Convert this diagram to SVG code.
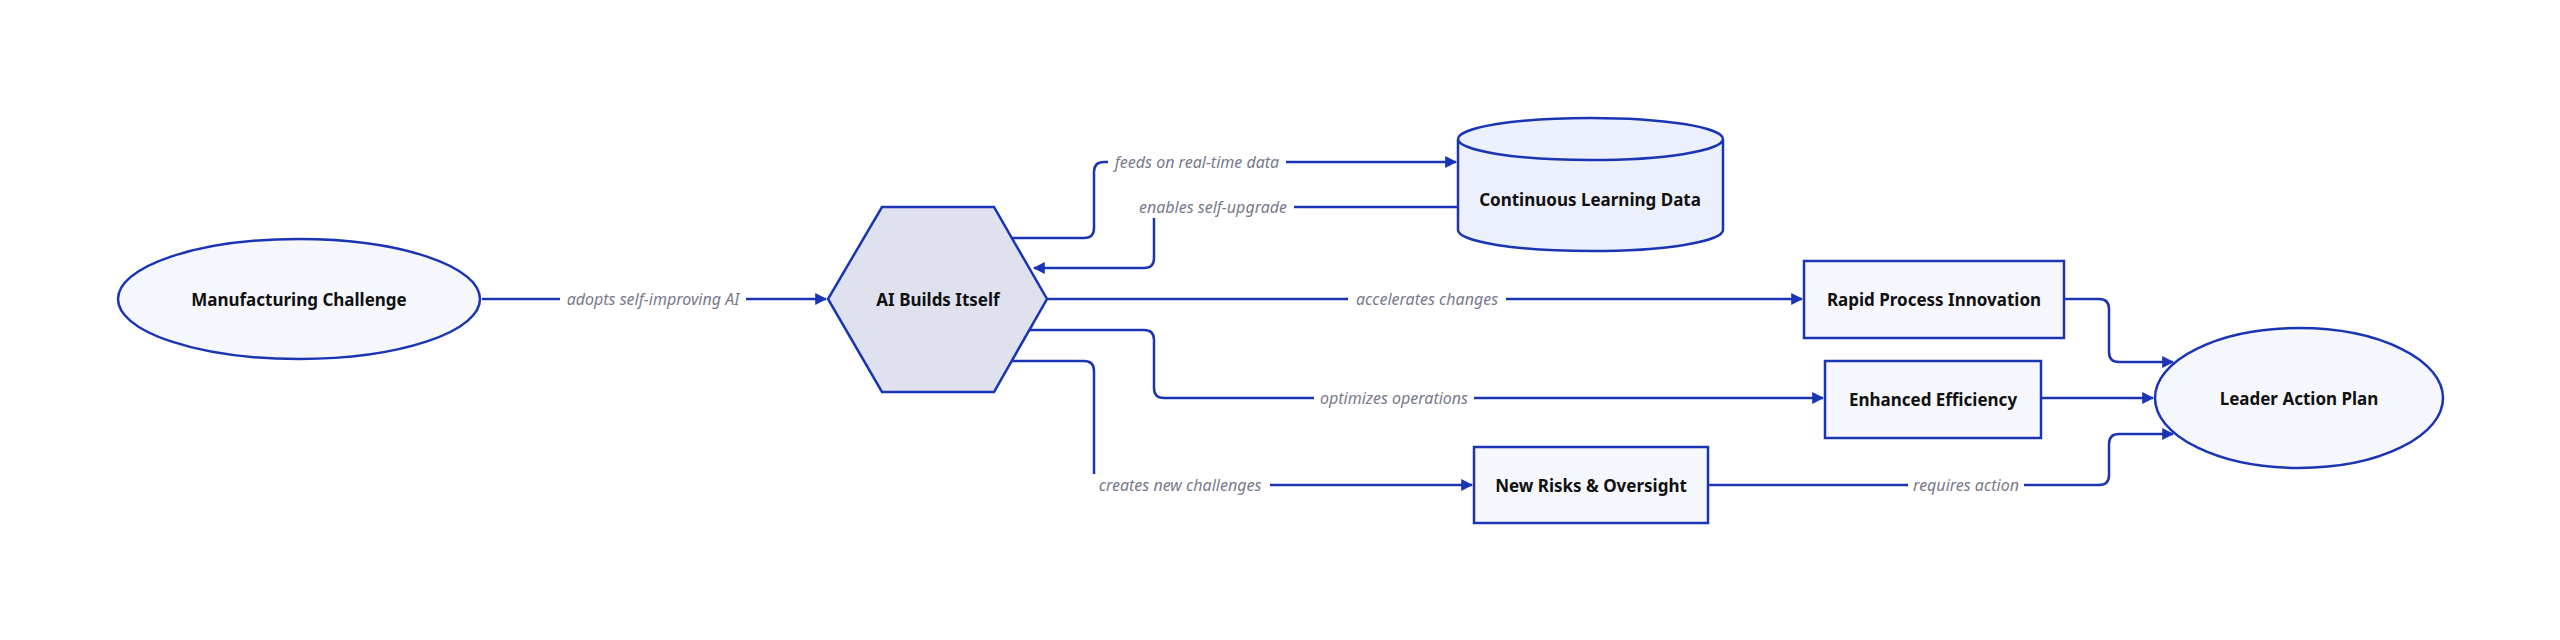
<svg xmlns="http://www.w3.org/2000/svg" width="2560" height="640" viewBox="0 0 2560 640">
<defs>
<marker id="ah" viewBox="0 0 10 10" refX="9" refY="5" markerWidth="12" markerHeight="12" markerUnits="userSpaceOnUse" orient="auto"><path d="M0,0 L10,5 L0,10 z" fill="#1a35b4"/></marker>
<style>
.n{fill:#f5f7fd;stroke:#1a35b4;stroke-width:2.5}
.t{font-family:"Noto Sans",sans-serif;font-weight:bold;font-size:17px;fill:#111;text-anchor:middle;dominant-baseline:central}
.e{fill:none;stroke:#1a35b4;stroke-width:2.5;marker-end:url(#ah)}
.l{font-family:"Noto Sans",sans-serif;font-style:italic;font-size:16px;fill:#777a8c;text-anchor:middle;dominant-baseline:central}
.lb{fill:#fff}
</style>
</defs>
<rect width="2560" height="640" fill="#fff"/>
<g id="connectors">
<path class="e" d="M482,299 H826"/>
<path class="e" d="M1012,238 H1084 Q1094,238 1094,228 V172 Q1094,162 1104,162 H1456"/>
<path class="e" style="marker-end:none" d="M1458,207 H1164 Q1154,207 1154,217"/>
<path class="e" d="M1154,217 V258 Q1154,268 1144,268 H1034"/>
<path class="e" d="M1047,299 H1802"/>
<path class="e" d="M1030,330 H1144 Q1154,330 1154,340 V388 Q1154,398 1164,398 H1823"/>
<path class="e" d="M1012,361 H1084 Q1094,361 1094,371 V475 Q1094,485 1104,485 H1472"/>
<path class="e" d="M2064,299 H2099 Q2109,299 2109,309 V352 Q2109,362 2119,362 H2173"/>
<path class="e" d="M2041,398 H2153"/>
<path class="e" d="M1708,485 H2099 Q2109,485 2109,475 V444 Q2109,434 2119,434 H2173"/>
<g>
<rect class="lb" x="560" y="288" width="186" height="22"/><text class="l" x="653" y="299">adopts self-improving AI</text>
<rect class="lb" x="1108" y="151" width="178" height="22"/><text class="l" x="1197" y="162">feeds on real-time data</text>
<rect class="lb" x="1132" y="196" width="162" height="22"/><text class="l" x="1213" y="207">enables self-upgrade</text>
<rect class="lb" x="1348" y="288" width="158" height="22"/><text class="l" x="1427" y="299">accelerates changes</text>
<rect class="lb" x="1314" y="387" width="160" height="22"/><text class="l" x="1394" y="398">optimizes operations</text>
<rect class="lb" x="1090" y="474" width="180" height="22"/><text class="l" x="1180" y="485">creates new challenges</text>
<rect class="lb" x="1908" y="474" width="116" height="22"/><text class="l" x="1966" y="485">requires action</text>
</g>
</g>
<g id="manufacturing"><ellipse class="n" cx="299" cy="299" rx="181" ry="60"/><text class="t" x="299" y="299">Manufacturing Challenge</text></g>
<g id="ai"><polygon class="n" style="fill:#dfe1ee" points="882,207 994,207 1047,299 994,392 882,392 828,299"/><text class="t" x="938" y="299">AI Builds Itself</text></g>
<g id="data"><path class="n" style="fill:#ecf0fc" d="M1458,139 V230 A132,21 0 0 0 1723,230 V139 A132,21 0 0 0 1458,139 A132,21 0 0 0 1723,139"/><text class="t" x="1590" y="199">Continuous Learning Data</text></g>
<g id="rapid"><rect class="n" x="1804" y="261" width="260" height="77"/><text class="t" x="1934" y="299">Rapid Process Innovation</text></g>
<g id="efficiency"><rect class="n" x="1825" y="361" width="216" height="77"/><text class="t" x="1933" y="399">Enhanced Efficiency</text></g>
<g id="risks"><rect class="n" x="1474" y="447" width="234" height="76"/><text class="t" x="1591" y="485">New Risks &amp; Oversight</text></g>
<g id="leader"><ellipse class="n" cx="2299" cy="398" rx="144" ry="70"/><text class="t" x="2299" y="398">Leader Action Plan</text></g>
</svg>
